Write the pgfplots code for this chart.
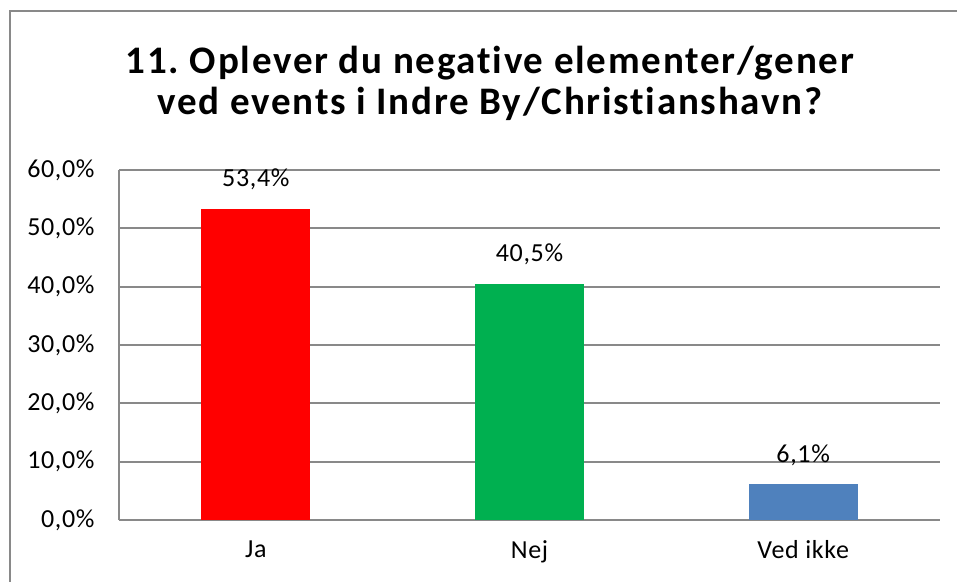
\documentclass[border=0pt]{standalone}
\usepackage{pgfplots}
\pgfplotsset{compat=1.18}
\usepackage{fontspec}
\setmainfont{Carlito}[LetterSpace=2.5, Ligatures=NoCommon]
\newfontfamily\titlefont{Carlito}[LetterSpace=4.5, Ligatures=NoCommon]
\frenchspacing
\definecolor{cred}{HTML}{FF0000}
\definecolor{cgreen}{HTML}{00B050}
\definecolor{cblue}{HTML}{4F81BD}
\definecolor{cgrid}{HTML}{898989}
\begin{document}
\begin{tikzpicture}[x=1pt,y=1pt]
\useasboundingbox (0,0) rectangle (957,581);
\draw[line width=2pt, color=cgrid] (10,-10) -- (10,570) -- (970,570);
\node[font=\titlefont\fontsize{39}{41}\selectfont\bfseries, align=center] at (490,498) {11. Oplever du negative elementer/gener\\ved events i Indre By/Christianshavn?};
\begin{axis}[
  at={(119pt,61pt)}, anchor=south west,
  scale only axis, width=821pt, height=350pt,
  xmin=-0.5, xmax=2.5, ymin=0, ymax=60,
  ytick={0,10,20,30,40,50,60},
  yticklabels={{0,0\%},{10,0\%},{20,0\%},{30,0\%},{40,0\%},{50,0\%},{60,0\%}},
  xtick={0,1,2},
  xticklabels={Ja,Nej,Ved ikke},
  ymajorgrids,
  grid style={cgrid, line width=2pt},
  axis x line*=bottom, axis y line*=left,
  axis line style={-, cgrid, line width=2pt},
  major tick length=0pt,
  tick label style={font=\fontsize{26}{30}\selectfont},
  yticklabel style={xshift=-21pt},
  xticklabel style={yshift=-17pt},
  ybar, bar width=109pt,
  nodes near coords,
  point meta=explicit symbolic,
  every node near coord/.append style={font=\fontsize{26}{30}\selectfont, yshift=15pt, color=black},
  clip=false,
]
\addplot[fill=cred, draw=none, bar shift=0pt] coordinates {(0,53.4) [53,4\%]};
\addplot[fill=cgreen, draw=none, bar shift=0pt] coordinates {(1,40.5) [40,5\%]};
\addplot[fill=cblue, draw=none, bar shift=0pt] coordinates {(2,6.1) [6,1\%]};
\end{axis}
\end{tikzpicture}
\end{document}
